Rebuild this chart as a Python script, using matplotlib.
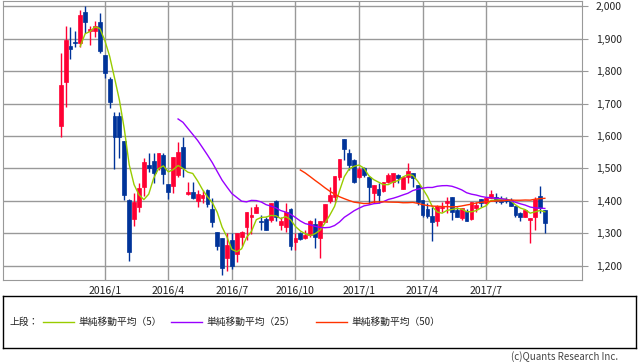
import matplotlib
matplotlib.use('Agg')
import matplotlib.pyplot as plt
import numpy as np
import pandas as pd

plt.rcParams['font.family'] = ['Noto Sans CJK JP', 'DejaVu Sans']

# weekly candles, first week starts 2015-11-02
first_week = '2015-11-02'
opens = [1631, 1767, 1878, 1889, 1886, 1983, 1925, 1922, 1950, 1850,
         1776, 1660, 1660, 1585, 1402, 1344, 1380, 1444, 1510, 1523,
         1500, 1541, 1452, 1446, 1480, 1567, 1421, 1428, 1400, 1408,
         1433, 1375, 1305, 1285, 1225, 1280, 1235, 1289, 1320, 1351,
         1363, 1339, 1343, 1341, 1400, 1325, 1320, 1374, 1274, 1300,
         1284, 1295, 1329, 1284, 1336, 1401, 1413, 1472, 1590, 1546,
         1526, 1475, 1500, 1475, 1425, 1435, 1431, 1459, 1459, 1480,
         1437, 1475, 1485, 1449, 1403, 1374, 1353, 1338, 1377, 1392,
         1413, 1372, 1346, 1370, 1343, 1379, 1406, 1394, 1408, 1411,
         1406, 1403, 1403, 1384, 1364, 1351, 1341, 1351, 1415, 1372]
highs = [1855, 1939, 1937, 1924, 1988, 2001, 1940, 1954, 1978, 1850,
         1781, 1675, 1675, 1585, 1405, 1425, 1455, 1531, 1546, 1549,
         1548, 1548, 1452, 1536, 1582, 1598, 1459, 1459, 1433, 1433,
         1438, 1408, 1305, 1285, 1300, 1300, 1300, 1308, 1367, 1382,
         1389, 1356, 1351, 1392, 1402, 1351, 1392, 1377, 1300, 1305,
         1310, 1341, 1346, 1339, 1390, 1444, 1477, 1528, 1590, 1559,
         1529, 1505, 1505, 1477, 1449, 1456, 1459, 1485, 1487, 1482,
         1475, 1518, 1487, 1449, 1403, 1392, 1382, 1387, 1395, 1412,
         1413, 1380, 1377, 1374, 1397, 1397, 1406, 1413, 1433, 1423,
         1415, 1413, 1408, 1384, 1367, 1374, 1346, 1413, 1446, 1372]
lows = [1598, 1690, 1837, 1875, 1875, 1916, 1880, 1906, 1857, 1778,
        1685, 1497, 1531, 1402, 1215, 1323, 1366, 1415, 1488, 1454,
        1495, 1452, 1406, 1423, 1475, 1475, 1418, 1405, 1382, 1392,
        1382, 1320, 1248, 1170, 1185, 1189, 1212, 1262, 1280, 1298,
        1361, 1310, 1310, 1336, 1339, 1310, 1305, 1248, 1248, 1279,
        1281, 1290, 1254, 1223, 1336, 1392, 1397, 1465, 1526, 1495,
        1454, 1470, 1475, 1390, 1392, 1392, 1428, 1454, 1444, 1454,
        1437, 1454, 1444, 1387, 1351, 1346, 1277, 1322, 1365, 1361,
        1341, 1351, 1340, 1339, 1341, 1367, 1382, 1387, 1408, 1392,
        1389, 1392, 1384, 1351, 1339, 1351, 1271, 1310, 1361, 1300]
closes = [1757, 1896, 1868, 1887, 1973, 1952, 1930, 1939, 1863, 1793,
          1706, 1596, 1596, 1418, 1243, 1397, 1440, 1521, 1502, 1487,
          1546, 1483, 1428, 1536, 1552, 1500, 1426, 1408, 1421, 1418,
          1390, 1336, 1260, 1192, 1264, 1200, 1300, 1305, 1367, 1356,
          1382, 1335, 1310, 1392, 1351, 1338, 1367, 1262, 1287, 1282,
          1295, 1339, 1290, 1339, 1390, 1418, 1477, 1528, 1560, 1510,
          1457, 1497, 1480, 1444, 1449, 1418, 1459, 1480, 1485, 1470,
          1475, 1493, 1469, 1397, 1356, 1353, 1336, 1385, 1380, 1399,
          1367, 1351, 1377, 1339, 1397, 1387, 1392, 1410, 1421, 1400,
          1397, 1400, 1385, 1356, 1351, 1372, 1346, 1405, 1377, 1331]

ma_windows = [5, 25, 50]
ma_colors = ['#99cc00', '#9900ff', '#ff3300']
ma_labels = ['単純移動平均（5）', '単純移動平均（25）', '単純移動平均（50）']
tick_months = ['2016-01', '2016-04', '2016-07', '2016-10', '2017-01', '2017-04', '2017-07']
y_ticks = [1200, 1300, 1400, 1500, 1600, 1700, 1800, 1900, 2000]

df = pd.DataFrame({'open': opens, 'high': highs, 'low': lows, 'close': closes})
df['date'] = pd.date_range(first_week, periods=len(df), freq='W-MON')
x = np.arange(len(df))
up = df['close'] >= df['open']
col = np.where(up, '#ff0033', '#003399')

fig = plt.figure(figsize=(6.38, 3.62), dpi=100)
ax = fig.add_axes([3 / 638, 82 / 362, 579 / 638, 279 / 362])

ax.vlines(x, df['low'], df['high'], colors=col, linewidth=1, zorder=3)
ax.bar(x, df['close'] - df['open'], bottom=df['open'], width=0.78,
       color=col, edgecolor=col, linewidth=0.5, zorder=4)

for w, c in zip(ma_windows, ma_colors):
    ax.plot(x, df['close'].rolling(w).mean(), color=c, linewidth=1, zorder=5)

months = df['date'].dt.strftime('%Y-%m')
tick_pos = [int(np.argmax(months.values == m)) for m in tick_months]
ax.set_xticks(tick_pos)
ax.set_xticklabels([m.replace('-0', '/').replace('-', '/') for m in tick_months])
ax.set_xlim(-11.8, 106.6)
ax.set_ylim(1156, 2016)
ax.set_yticks(y_ticks)
ax.set_yticklabels([f'{v:,}' for v in y_ticks])
ax.yaxis.tick_right()
ax.tick_params(axis='y', length=4, color='#999999', pad=6, labelsize=7.5, labelcolor='#222222')
ax.tick_params(axis='x', length=0, pad=4, labelsize=7.5, labelcolor='#222222')
ax.grid(True, color='#999999', linewidth=1)
ax.set_axisbelow(True)
for s in ax.spines.values():
    s.set_color('#999999')

# legend panel
lax = fig.add_axes([3 / 638, 14 / 362, 633 / 638, 52 / 362])
lax.set_xticks([])
lax.set_yticks([])
for s in lax.spines.values():
    s.set_color('black')
    s.set_linewidth(1)
ly = 1 - 322 / 362
fig.text(10 / 638, ly, '上段：', fontsize=7, va='center', color='#222222')
for (x0, x1, xt), c, lab in zip([(43, 74, 78), (171, 202, 206), (316, 347, 351)], ma_colors, ma_labels):
    fig.add_artist(plt.Line2D([x0 / 638, x1 / 638], [ly, ly], color=c, linewidth=1))
    fig.text(xt / 638, ly, lab, fontsize=7, va='center', color='#222222')

fig.text(618 / 638, 1 - 357 / 362, '(c)Quants Research Inc.', fontsize=7,
         ha='right', va='center', color='#444444')

fig.savefig('out.png', dpi=100)
